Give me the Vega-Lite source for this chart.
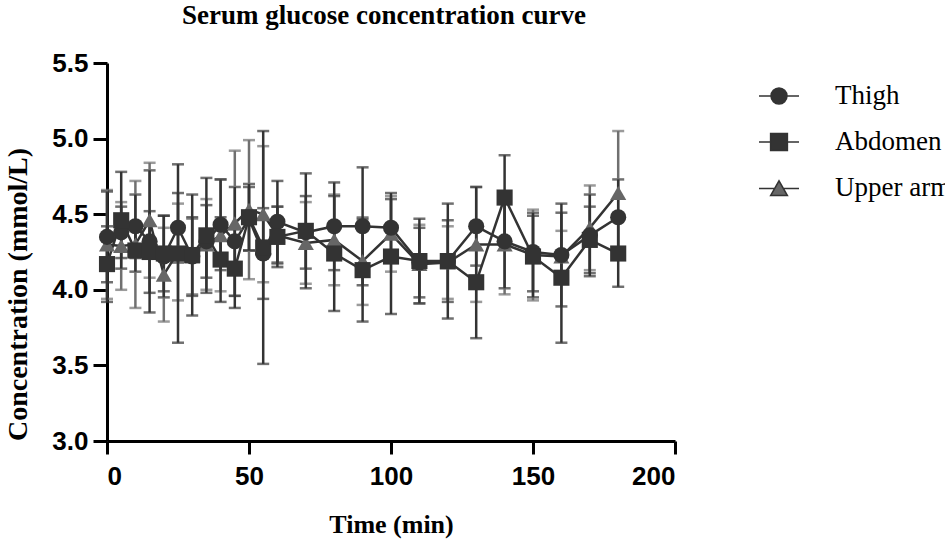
{
  "$schema": "https://vega.github.io/schema/vega-lite/v6.json",
  "autosize": "none",
  "width": 568,
  "height": 378,
  "padding": {"left": 107, "top": 63, "right": 270, "bottom": 107},
  "background": "white",
  "config": {"view": {"stroke": null}},
  "title": {"text": "Serum glucose concentration curve", "font": "Liberation Serif", "fontSize": 27, "fontWeight": "bold", "color": "black", "anchor": "middle", "baseline": "alphabetic", "frame": "group", "offset": 0, "dx": -7, "dy": 1},
  "data": {"values": [
    {"site": "Upper arm", "time": 0, "mean": 4.30, "sd": 0.36},
    {"site": "Upper arm", "time": 5, "mean": 4.29, "sd": 0.29},
    {"site": "Upper arm", "time": 10, "mean": 4.30, "sd": 0.42},
    {"site": "Upper arm", "time": 15, "mean": 4.46, "sd": 0.38},
    {"site": "Upper arm", "time": 20, "mean": 4.10, "sd": 0.31},
    {"site": "Upper arm", "time": 25, "mean": 4.25, "sd": 0.32},
    {"site": "Upper arm", "time": 30, "mean": 4.22, "sd": 0.25},
    {"site": "Upper arm", "time": 35, "mean": 4.30, "sd": 0.30},
    {"site": "Upper arm", "time": 40, "mean": 4.36, "sd": 0.37},
    {"site": "Upper arm", "time": 45, "mean": 4.44, "sd": 0.48},
    {"site": "Upper arm", "time": 50, "mean": 4.53, "sd": 0.46},
    {"site": "Upper arm", "time": 55, "mean": 4.50, "sd": 0.45},
    {"site": "Upper arm", "time": 60, "mean": 4.36, "sd": 0.19},
    {"site": "Upper arm", "time": 70, "mean": 4.31, "sd": 0.27},
    {"site": "Upper arm", "time": 80, "mean": 4.33, "sd": 0.30},
    {"site": "Upper arm", "time": 90, "mean": 4.19, "sd": 0.29},
    {"site": "Upper arm", "time": 100, "mean": 4.37, "sd": 0.25},
    {"site": "Upper arm", "time": 110, "mean": 4.17, "sd": 0.26},
    {"site": "Upper arm", "time": 120, "mean": 4.18, "sd": 0.24},
    {"site": "Upper arm", "time": 130, "mean": 4.30, "sd": 0.38},
    {"site": "Upper arm", "time": 140, "mean": 4.30, "sd": 0.33},
    {"site": "Upper arm", "time": 150, "mean": 4.23, "sd": 0.30},
    {"site": "Upper arm", "time": 160, "mean": 4.22, "sd": 0.17},
    {"site": "Upper arm", "time": 170, "mean": 4.41, "sd": 0.28},
    {"site": "Upper arm", "time": 180, "mean": 4.64, "sd": 0.41},
    {"site": "Thigh", "time": 0, "mean": 4.35, "sd": 0.30},
    {"site": "Thigh", "time": 5, "mean": 4.38, "sd": 0.17},
    {"site": "Thigh", "time": 10, "mean": 4.42, "sd": 0.21},
    {"site": "Thigh", "time": 15, "mean": 4.32, "sd": 0.47},
    {"site": "Thigh", "time": 20, "mean": 4.22, "sd": 0.27},
    {"site": "Thigh", "time": 25, "mean": 4.41, "sd": 0.23},
    {"site": "Thigh", "time": 30, "mean": 4.22, "sd": 0.26},
    {"site": "Thigh", "time": 35, "mean": 4.32, "sd": 0.24},
    {"site": "Thigh", "time": 40, "mean": 4.43, "sd": 0.30},
    {"site": "Thigh", "time": 45, "mean": 4.32, "sd": 0.36},
    {"site": "Thigh", "time": 50, "mean": 4.47, "sd": 0.21},
    {"site": "Thigh", "time": 55, "mean": 4.24, "sd": 0.30},
    {"site": "Thigh", "time": 60, "mean": 4.45, "sd": 0.27},
    {"site": "Thigh", "time": 70, "mean": 4.38, "sd": 0.24},
    {"site": "Thigh", "time": 80, "mean": 4.42, "sd": 0.29},
    {"site": "Thigh", "time": 90, "mean": 4.42, "sd": 0.39},
    {"site": "Thigh", "time": 100, "mean": 4.41, "sd": 0.23},
    {"site": "Thigh", "time": 110, "mean": 4.18, "sd": 0.23},
    {"site": "Thigh", "time": 120, "mean": 4.19, "sd": 0.27},
    {"site": "Thigh", "time": 130, "mean": 4.42, "sd": 0.26},
    {"site": "Thigh", "time": 140, "mean": 4.32, "sd": 0.31},
    {"site": "Thigh", "time": 150, "mean": 4.25, "sd": 0.26},
    {"site": "Thigh", "time": 160, "mean": 4.23, "sd": 0.34},
    {"site": "Thigh", "time": 170, "mean": 4.36, "sd": 0.27},
    {"site": "Thigh", "time": 180, "mean": 4.48, "sd": 0.25},
    {"site": "Abdomen", "time": 0, "mean": 4.17, "sd": 0.25},
    {"site": "Abdomen", "time": 5, "mean": 4.46, "sd": 0.32},
    {"site": "Abdomen", "time": 10, "mean": 4.26, "sd": 0.14},
    {"site": "Abdomen", "time": 15, "mean": 4.25, "sd": 0.27},
    {"site": "Abdomen", "time": 20, "mean": 4.24, "sd": 0.25},
    {"site": "Abdomen", "time": 25, "mean": 4.24, "sd": 0.59},
    {"site": "Abdomen", "time": 30, "mean": 4.23, "sd": 0.40},
    {"site": "Abdomen", "time": 35, "mean": 4.36, "sd": 0.38},
    {"site": "Abdomen", "time": 40, "mean": 4.20, "sd": 0.28},
    {"site": "Abdomen", "time": 45, "mean": 4.14, "sd": 0.26},
    {"site": "Abdomen", "time": 50, "mean": 4.48, "sd": 0.22},
    {"site": "Abdomen", "time": 55, "mean": 4.28, "sd": 0.77},
    {"site": "Abdomen", "time": 60, "mean": 4.35, "sd": 0.20},
    {"site": "Abdomen", "time": 70, "mean": 4.39, "sd": 0.38},
    {"site": "Abdomen", "time": 80, "mean": 4.24, "sd": 0.38},
    {"site": "Abdomen", "time": 90, "mean": 4.13, "sd": 0.34},
    {"site": "Abdomen", "time": 100, "mean": 4.22, "sd": 0.38},
    {"site": "Abdomen", "time": 110, "mean": 4.19, "sd": 0.28},
    {"site": "Abdomen", "time": 120, "mean": 4.19, "sd": 0.38},
    {"site": "Abdomen", "time": 130, "mean": 4.05, "sd": 0.37},
    {"site": "Abdomen", "time": 140, "mean": 4.61, "sd": 0.28},
    {"site": "Abdomen", "time": 150, "mean": 4.22, "sd": 0.27},
    {"site": "Abdomen", "time": 160, "mean": 4.08, "sd": 0.43},
    {"site": "Abdomen", "time": 170, "mean": 4.33, "sd": 0.22},
    {"site": "Abdomen", "time": 180, "mean": 4.24, "sd": 0.22}
  ]},
  "encoding": {
    "x": {"field": "time", "type": "quantitative",
      "scale": {"domain": [0, 200], "nice": false, "zero": false},
      "axis": {"values": [0, 50, 100, 150, 200], "grid": false, "title": "Time (min)",
        "domainColor": "black", "domainWidth": 3, "tickColor": "black", "tickWidth": 3, "tickSize": 13,
        "labelFont": "Liberation Sans", "labelFontSize": 26, "labelFontWeight": "bold", "labelColor": "black", "labelPadding": 9,
        "titleFont": "Liberation Serif", "titleFontSize": 26, "titleFontWeight": "bold", "titleColor": "black", "titlePadding": 22}},
    "y": {"field": "mean", "type": "quantitative",
      "scale": {"domain": [3.0, 5.5], "nice": false, "zero": false},
      "axis": {"values": [3.0, 3.5, 4.0, 4.5, 5.0, 5.5], "format": ".1f", "grid": false, "title": "Concentration (mmol/L)",
        "domainColor": "black", "domainWidth": 3, "tickColor": "black", "tickWidth": 3, "tickSize": 14,
        "labelFont": "Liberation Sans", "labelFontSize": 26, "labelFontWeight": "bold", "labelColor": "black", "labelPadding": 5,
        "titleFont": "Liberation Serif", "titleFontSize": 28, "titleFontWeight": "bold", "titleColor": "black",
        "titleX": -75, "titleY": 231, "titleAngle": -90, "titleBaseline": "bottom", "titleAlign": "center"}}
  },
  "resolve": {"scale": {"color": "independent", "shape": "independent"}},
  "layer": [
    {
      "mark": {"type": "errorbar", "ticks": {"size": 12, "thickness": 2.5}, "thickness": 2.5},
      "encoding": {
        "y": {"field": "mean", "type": "quantitative"},
        "yError": {"field": "sd"},
        "color": {"field": "site", "type": "nominal", "legend": null,
          "scale": {"domain": ["Thigh", "Abdomen", "Upper arm"], "range": ["#333333", "#333333", "#707070"]}}
      }
    },
    {
      "mark": {"type": "line", "strokeWidth": 2.5, "color": "#333333"},
      "encoding": {"detail": {"field": "site", "type": "nominal"}}
    },
    {
      "mark": {"type": "point", "filled": true, "opacity": 1},
      "encoding": {
        "color": {"field": "site", "type": "nominal", "legend": null,
          "scale": {"domain": ["Thigh", "Abdomen", "Upper arm"], "range": ["#333333", "#333333", "#666666"]}},
        "shape": {"field": "site", "type": "nominal", "legend": null,
          "scale": {"domain": ["Thigh", "Abdomen", "Upper arm"], "range": ["circle", "square", "triangle-up"]}},
        "size": {"value": 260}
      }
    },
    {
      "transform": [{"filter": "datum.time < 0"}],
      "mark": {"type": "point", "filled": true, "opacity": 1, "stroke": "#333333", "strokeWidth": 2.5},
      "encoding": {
        "color": {"field": "site", "type": "nominal",
          "scale": {"domain": ["Thigh", "Abdomen", "Upper arm"], "range": ["#333333", "#333333", "#666666"]},
          "legend": {"title": null, "orient": "right", "offset": 71, "padding": 12, "rowPadding": 12,
            "labelFont": "Liberation Serif", "labelFontSize": 27, "labelColor": "black", "labelOffset": 35, "symbolSize": 1600, "symbolOpacity": 1}},
        "shape": {"field": "site", "type": "nominal",
          "scale": {"domain": ["Thigh", "Abdomen", "Upper arm"], "range": [
            "M-1,0L-0.4,0M0.4,0L1,0M-0.4,0A0.4,0.4,0,1,1,0.4,0A0.4,0.4,0,1,1,-0.4,0Z",
            "M-1,0L-0.42,0M0.42,0L1,0M-0.42,-0.42L0.42,-0.42L0.42,0.42L-0.42,0.42Z",
            "M-1,0.02L-0.22,0.02M0.22,0.02L1,0.02M-0.42,0.38L0,-0.36L0.42,0.38Z"]},
          "legend": {"title": null, "orient": "right", "offset": 71, "padding": 12, "rowPadding": 12,
            "labelFont": "Liberation Serif", "labelFontSize": 27, "labelColor": "black", "labelOffset": 35, "symbolSize": 1600, "symbolOpacity": 1}}
      }
    }
  ]
}
